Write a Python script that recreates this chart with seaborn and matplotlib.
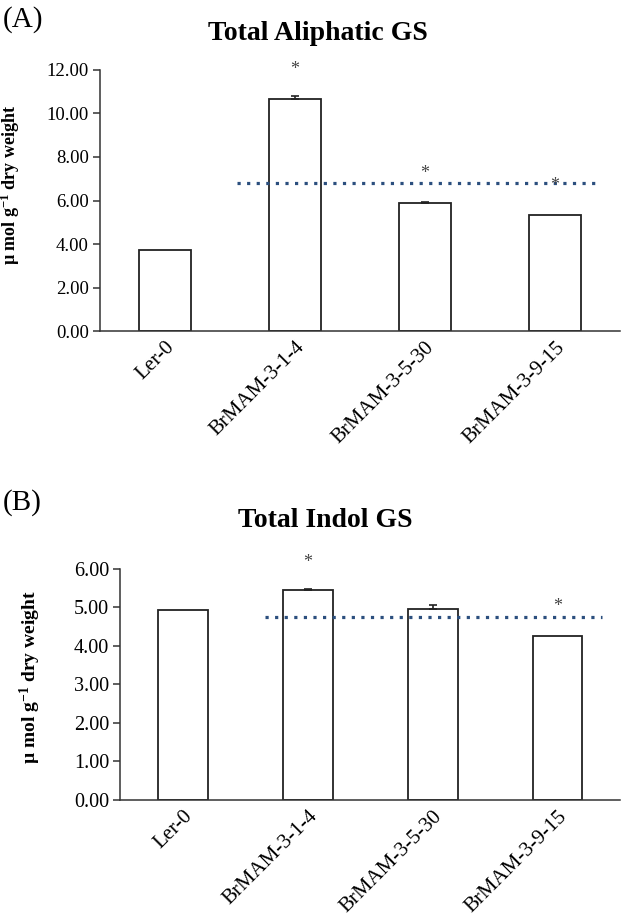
import matplotlib
matplotlib.use('Agg')
import matplotlib.pyplot as plt
import seaborn as sns
import pandas as pd
import numpy as np

# lines tested
lines = ['Ler-0', 'BrMAM-3-1-4', 'BrMAM-3-5-30', 'BrMAM-3-9-15']

# (A) total aliphatic GS
aliphatic = [3.73, 10.65, 5.88, 5.35]
aliphatic_err = [0.0, 0.15, 0.05, 0.0]
aliphatic_star = [None, 12.0, 7.26, 6.7]
aliphatic_ref = 6.82

# (B) total indol GS
indol = [4.93, 5.45, 4.95, 4.27]
indol_err = [0.0, 0.04, 0.12, 0.0]
indol_star = [None, 6.18, None, 5.02]
indol_ref = 4.75

ylab = 'µ mol g$^{-1}$ dry weight'

sns.set_theme(style='ticks')
plt.rcParams['font.family'] = ['Liberation Serif', 'DejaVu Serif']
plt.rcParams['mathtext.default'] = 'regular'
plt.rcParams['axes.linewidth'] = 1.1
plt.rcParams['axes.edgecolor'] = '#333333'
plt.rcParams['text.color'] = 'black'
plt.rcParams['axes.labelcolor'] = 'black'
plt.rcParams['xtick.labelcolor'] = 'black'
plt.rcParams['ytick.labelcolor'] = 'black'

fig = plt.figure(figsize=(6.32, 9.21), dpi=100)
axA = fig.add_axes([0.158, 0.6406, 0.823, 0.2834])
axB = fig.add_axes([0.190, 0.1314, 0.791, 0.2508])

panels = [
    (axA, aliphatic, aliphatic_err, aliphatic_star, aliphatic_ref, 12, 2, (0.554, 3.31), 13.5, 13, 15),
    (axB, indol, indol_err, indol_star, indol_ref, 6, 1, (0.66, 3.356), 14.5, 14, 15),
]

for ax, vals, errs, stars, ref, ymax, step, span, tfs, lfs, xfs in panels:
    df = pd.DataFrame({'line': lines, 'value': vals})
    sns.barplot(data=df, x='line', y='value', ax=ax, color='white',
                edgecolor='#222222', linewidth=1.3, width=0.4,
                errorbar=None, saturation=1)

    # upper error bars only
    idx = [i for i, e in enumerate(errs) if e > 0]
    ax.errorbar(idx, [vals[i] for i in idx],
                yerr=[[0] * len(idx), [errs[i] for i in idx]],
                fmt='none', ecolor='#222222', elinewidth=1.2, capsize=3,
                capthick=1.2)

    # significance stars
    for i, s in enumerate(stars):
        if s is not None:
            ax.text(i, s, '*', ha='center', va='center', fontsize=13,
                    color='#444444', clip_on=False)

    # dotted reference line
    ax.plot(list(span), [ref, ref], color='#2B4F7E', lw=2.3,
            linestyle=(0, (1, 2)), clip_on=False)

    ax.set_xlim(-0.5, 3.5)
    ax.set_ylim(0, ymax)
    ticks = np.arange(0, ymax + 0.01, step)
    ax.set_yticks(ticks)
    ax.set_yticklabels(['{:.2f}'.format(v) for v in ticks], fontsize=tfs)
    ax.tick_params(axis='y', length=5, width=1.1, color='#333333', pad=3)
    ax.tick_params(axis='x', length=0, pad=5)
    ax.set_xticks(range(len(lines)))
    ax.set_xticklabels(lines, rotation=45, ha='right', va='top',
                       rotation_mode='anchor', fontsize=xfs)
    ax.set_xlabel('')
    ax.set_ylabel(ylab, fontsize=lfs, fontweight='bold')
    sns.despine(ax=ax)

axA.yaxis.set_label_coords(-0.15, 0.56)
axB.yaxis.set_label_coords(-0.154, 0.53)

fig.text(0.005, 1 - 20 / 921, '(A)', fontsize=21, va='center', ha='left')
fig.text(318 / 632, 1 - 33 / 921, 'Total Aliphatic GS', fontsize=20,
         fontweight='bold', ha='center', va='center')
fig.text(0.005, 1 - 503 / 921, '(B)', fontsize=21, va='center', ha='left')
fig.text(325 / 632, 1 - 520 / 921, 'Total Indol GS', fontsize=20,
         fontweight='bold', ha='center', va='center')

fig.savefig('out.png', dpi=100)
